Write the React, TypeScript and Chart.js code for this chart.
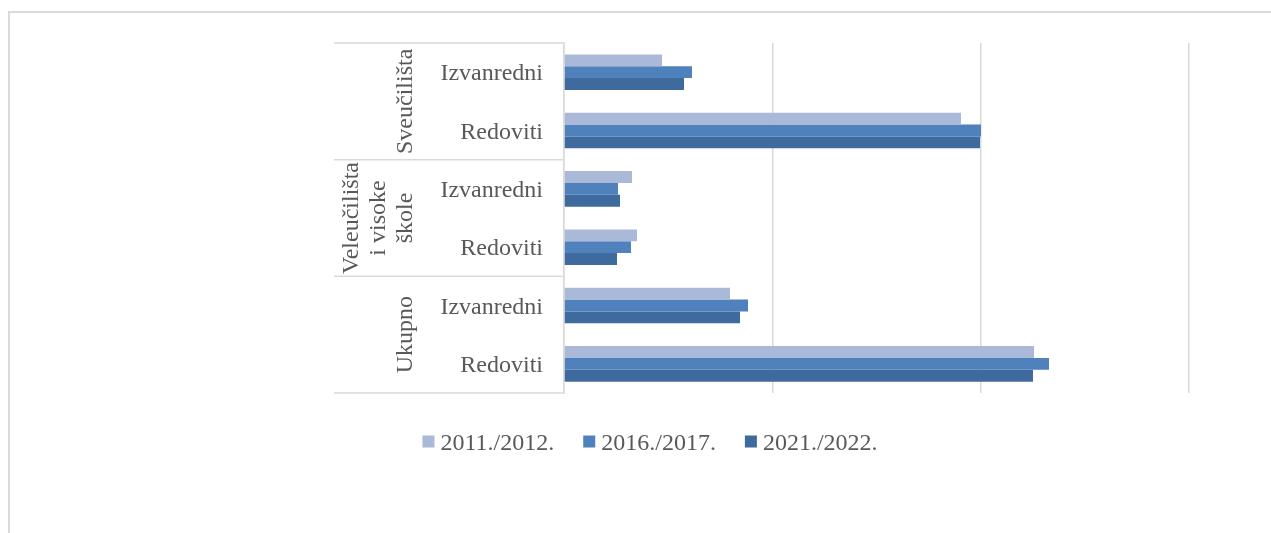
import React, { useEffect, useRef } from "react";
import { Chart, registerables } from "chart.js";

Chart.register(...registerables);

const subLabels = ["Izvanredni", "Redoviti", "Izvanredni", "Redoviti", "Izvanredni", "Redoviti"];
const groupLabels: string[][] = [["Sveučilišta"], ["Veleučilišta", "i visoke", "škole"], ["Ukupno"]];
const seriesNames = ["2011./2012.", "2016./2017.", "2021./2022."];
const values2011 = [23520, 95280, 16320, 17520, 39840, 112800];
const values2016 = [30720, 100080, 12960, 16080, 44160, 116400];
const values2021 = [28800, 99840, 13440, 12720, 42240, 112560];
const seriesColors = ["#A9B9D7", "#4F81BD", "#3F6A9E"];
const xMax = 150000;
const xStep = 50000;

const FONT = '"Liberation Serif", "Times New Roman", serif';
const TEXT = "#595959";
const LINE = "#d9d9d9";

const decorPlugin = {
  id: "decor",
  afterDraw(chart: any) {
    const ctx = chart.ctx as CanvasRenderingContext2D;
    const area = chart.chartArea;
    const y = chart.scales.y;
    ctx.save();
    // outer frame (extends beyond viewport)
    ctx.strokeStyle = LINE;
    ctx.lineWidth = 2;
    ctx.beginPath();
    ctx.moveTo(9, 600);
    ctx.lineTo(9, 12);
    ctx.lineTo(1300, 12);
    ctx.stroke();

    // category table lines
    const tableLeft = 334;
    ctx.lineWidth = 1.5;
    const bounds = [area.top];
    for (let g = 1; g < groupLabels.length; g++) {
      const i = g * 2;
      bounds.push((y.getPixelForValue(i - 1) + y.getPixelForValue(i)) / 2);
    }
    bounds.push(area.bottom);
    ctx.beginPath();
    for (const b of bounds) {
      ctx.moveTo(tableLeft, b);
      ctx.lineTo(area.left, b);
    }
    ctx.stroke();

    // sub labels
    ctx.fillStyle = TEXT;
    ctx.font = "24px " + FONT;
    ctx.textAlign = "right";
    ctx.textBaseline = "alphabetic";
    subLabels.forEach((lab, i) => {
      ctx.fillText(lab, 543, y.getPixelForValue(i) + 8);
    });

    // group labels rotated
    ctx.textAlign = "center";
    groupLabels.forEach((lines, g) => {
      const cy = (bounds[g] + bounds[g + 1]) / 2;
      const lastBase = 412;
      const spacing = 27;
      lines.forEach((ln, k) => {
        const bx = lastBase - (lines.length - 1 - k) * spacing;
        ctx.save();
        ctx.translate(bx, cy);
        ctx.rotate(-Math.PI / 2);
        ctx.fillText(ln, 0, 0);
        ctx.restore();
      });
    });

    // legend
    const sq = 12;
    const gapText = 6;
    const itemGap = 29;
    const widths = seriesNames.map((n) => ctx.measureText(n).width);
    const total = widths.reduce((a, w) => a + sq + gapText + w, 0) + itemGap * (seriesNames.length - 1);
    let lx = 650 - total / 2;
    const ly = 441.5;
    ctx.textAlign = "left";
    seriesNames.forEach((n, i) => {
      ctx.fillStyle = seriesColors[i];
      ctx.fillRect(lx, ly - sq / 2, sq, sq);
      ctx.fillStyle = TEXT;
      ctx.fillText(n, lx + sq + gapText, ly + 8);
      lx += sq + gapText + widths[i] + itemGap;
    });
    ctx.restore();
  },
};

export default function App() {
  const ref = useRef<HTMLCanvasElement | null>(null);
  useEffect(() => {
    if (!ref.current) return;
    const chart = new Chart(ref.current, {
      type: "bar",
      data: {
        labels: subLabels,
        datasets: [
          { label: seriesNames[0], data: values2011, backgroundColor: seriesColors[0] },
          { label: seriesNames[1], data: values2016, backgroundColor: seriesColors[1] },
          { label: seriesNames[2], data: values2021, backgroundColor: seriesColors[2] },
        ],
      },
      options: {
        indexAxis: "y",
        responsive: false,
        animation: false,
        devicePixelRatio: 1,
        layout: { padding: { left: 564, top: 43, right: 82, bottom: 140 } },
        datasets: { bar: { categoryPercentage: 0.61, barPercentage: 1 } },
        plugins: { legend: { display: false }, tooltip: { enabled: false }, title: { display: false } },
        scales: {
          x: {
            min: 0,
            max: xMax,
            ticks: { display: false, stepSize: xStep },
            grid: { color: LINE, lineWidth: 1.5, drawTicks: false },
            border: { display: false },
          },
          y: {
            ticks: { display: false },
            grid: { display: false, drawTicks: false },
            border: { display: true, color: LINE, width: 1.5 },
          },
        },
      } as any,
      plugins: [decorPlugin],
    });
    return () => chart.destroy();
  }, []);
  return (
    <div style={{ position: "absolute", left: 0, top: 0, width: 1271, height: 533, background: "#fff" }}>
      <canvas ref={ref} width={1271} height={533} style={{ display: "block" }} />
    </div>
  );
}
